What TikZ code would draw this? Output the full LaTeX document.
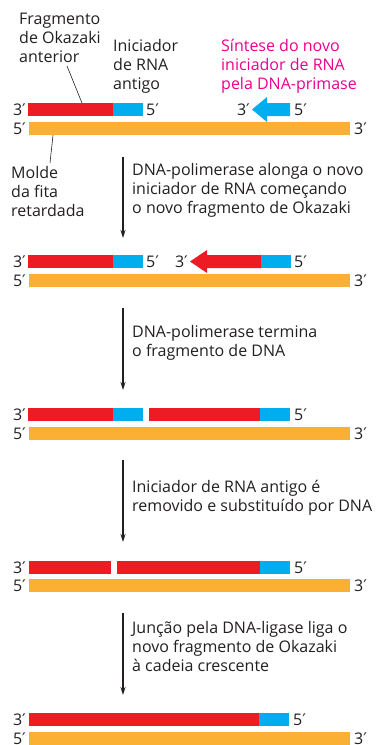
\documentclass[tikz,border=0pt]{standalone}
\usepackage{fontspec}
\setmainfont{Open Sans}
\newfontfamily\primefont{DejaVu Sans}
\usetikzlibrary{arrows.meta}
\definecolor{dnared}{RGB}{237,28,36}
\definecolor{rnablue}{RGB}{0,174,239}
\definecolor{tmplorange}{RGB}{251,176,52}
\definecolor{pinktxt}{RGB}{236,0,140}
\definecolor{inkgray}{RGB}{35,31,32}
\newcommand{\pr}{{\primefont\char"2032}}
\begin{document}
\begin{tikzpicture}[x=1pt,y=-1pt,font=\fontsize{16}{19}\selectfont,text=inkgray,
  strand/.style={rectangle,inner sep=0pt,minimum height=13pt,anchor=west},
  rd/.style={strand,fill=dnared},
  bl/.style={strand,fill=rnablue},
  og/.style={strand,fill=tmplorange},
  lblL/.style={inner sep=0pt,anchor=base east},
  lblR/.style={inner sep=0pt,anchor=base west},
  txt/.style={inner sep=0pt,anchor=north west,align=left},
  stepar/.style={draw=inkgray,line width=1.3pt,-{Stealth[length=8pt,width=5pt]}},
  lead/.style={draw=inkgray,line width=0.6pt}]
  \useasboundingbox (0,0) rectangle (387,745);
  % panel 1
  \node[rd,minimum width=85pt] (r1) at (28,109.5) {};
  \node[bl,minimum width=30pt] (b1) at (113,109.5) {};
  \node[og,minimum width=321pt] (o1) at (29,128.5) {};
  \node[lblL] (t1a) at (26,115.5) {3\pr};
  \node[lblR] (t1b) at (146,115.5) {5\pr};
  \node[lblL] (t1c) at (26,134.5) {5\pr};
  \node[lblR] (t1d) at (354,134.5) {3\pr};
  \fill[rnablue] (290,103) -- (267,103) -- (267,97) -- (252,109.5) -- (267,122) -- (267,116) -- (290,116) -- cycle;
  \node[lblL] (t1e) at (250,115.5) {3\pr};
  \node[lblR] (t1f) at (294,115.5) {5\pr};
  \node[txt] (okz) at (19,13) {Fragmento\\de Okazaki\\anterior};
  \node[txt] (ini) at (113,39) {Iniciador\\de RNA\\antigo};
  \node[txt,text=pinktxt] (syn) at (221,39) {Síntese do novo\\iniciador de RNA\\pela DNA-primase};
  \node[txt] (mld) at (11,166) {Molde\\da fita\\retardada};
  \coordinate (okzend) at (67,66);
  \coordinate (mldend) at (50,163);
  \draw[lead] (okzend) -- (82,103);
  \draw[lead] (o1.south west) ++(24,0) coordinate (o1tick) -- (mldend);
  % step 1
  \coordinate (s1a) at (123,157); \coordinate (s1b) at (123,238);
  \draw[stepar] (s1a) -- (s1b);
  \node[txt] (d1) at (132,163) {DNA-polimerase alonga o novo\\iniciador de RNA começando\\o novo fragmento de Okazaki};
  % panel 2
  \node[rd,minimum width=85pt] (r2) at (28,261.5) {};
  \node[bl,minimum width=30pt] (b2) at (113,261.5) {};
  \node[og,minimum width=321pt] (o2) at (29,280.5) {};
  \fill[dnared] (261,255) -- (207,255) -- (207,250) -- (190,261.5) -- (207,273) -- (207,268) -- (261,268) -- cycle;
  \node[bl,minimum width=30pt] (b2n) at (261,261.5) {};
  \node[lblL] (t2a) at (26,267.5) {3\pr};
  \node[lblR] (t2b) at (146,267.5) {5\pr};
  \node[lblL] (t2e) at (188,267.5) {3\pr};
  \node[lblR] (t2f) at (294,267.5) {5\pr};
  \node[lblL] (t2c) at (26,286.5) {5\pr};
  \node[lblR] (t2d) at (354,286.5) {3\pr};
  % step 2
  \coordinate (s2a) at (123,308); \coordinate (s2b) at (123,390);
  \draw[stepar] (s2a) -- (s2b);
  \node[txt] (d2) at (132,325) {DNA-polimerase termina\\o fragmento de DNA};
  % panel 3
  \node[rd,minimum width=85pt] (r3) at (28,414.5) {};
  \node[bl,minimum width=30pt] (b3) at (113,414.5) {};
  \node[rd,minimum width=111pt] (r3n) at (149,414.5) {};
  \node[bl,minimum width=30pt] (b3n) at (260,414.5) {};
  \node[og,minimum width=321pt] (o3) at (29,433.5) {};
  \node[lblL] (t3a) at (26,420.5) {3\pr};
  \node[lblR] (t3b) at (294,420.5) {5\pr};
  \node[lblL] (t3c) at (26,439.5) {5\pr};
  \node[lblR] (t3d) at (354,439.5) {3\pr};
  % step 3
  \coordinate (s3a) at (123,460); \coordinate (s3b) at (123,542);
  \draw[stepar] (s3a) -- (s3b);
  \node[txt] (d3) at (132,480) {Iniciador de RNA antigo é\\removido e substituído por DNA};
  % panel 4
  \node[rd,minimum width=82pt] (r4) at (29,567) {};
  \node[rd,minimum width=143pt] (r4n) at (117,567) {};
  \node[bl,minimum width=30pt] (b4n) at (260,567) {};
  \node[og,minimum width=321pt] (o4) at (29,585.5) {};
  \node[lblL] (t4a) at (26,573) {3\pr};
  \node[lblR] (t4b) at (294,573) {5\pr};
  \node[lblL] (t4c) at (26,591.5) {5\pr};
  \node[lblR] (t4d) at (354,591.5) {3\pr};
  % step 4
  \coordinate (s4a) at (123,613); \coordinate (s4b) at (123,695);
  \draw[stepar] (s4a) -- (s4b);
  \node[txt] (d4) at (132,621) {Junção pela DNA-ligase liga o\\novo fragmento de Okazaki\\à cadeia crescente};
  % panel 5
  \node[rd,minimum width=230pt] (r5) at (29,719.5) {};
  \node[bl,minimum width=30pt] (b5) at (259,719.5) {};
  \node[og,minimum width=321pt] (o5) at (29,738.5) {};
  \node[lblL] (t5a) at (26,725.5) {3\pr};
  \node[lblR] (t5b) at (293,725.5) {5\pr};
  \node[lblL] (t5c) at (26,744.5) {5\pr};
  \node[lblR] (t5d) at (354,744.5) {3\pr};
\end{tikzpicture}
\end{document}
